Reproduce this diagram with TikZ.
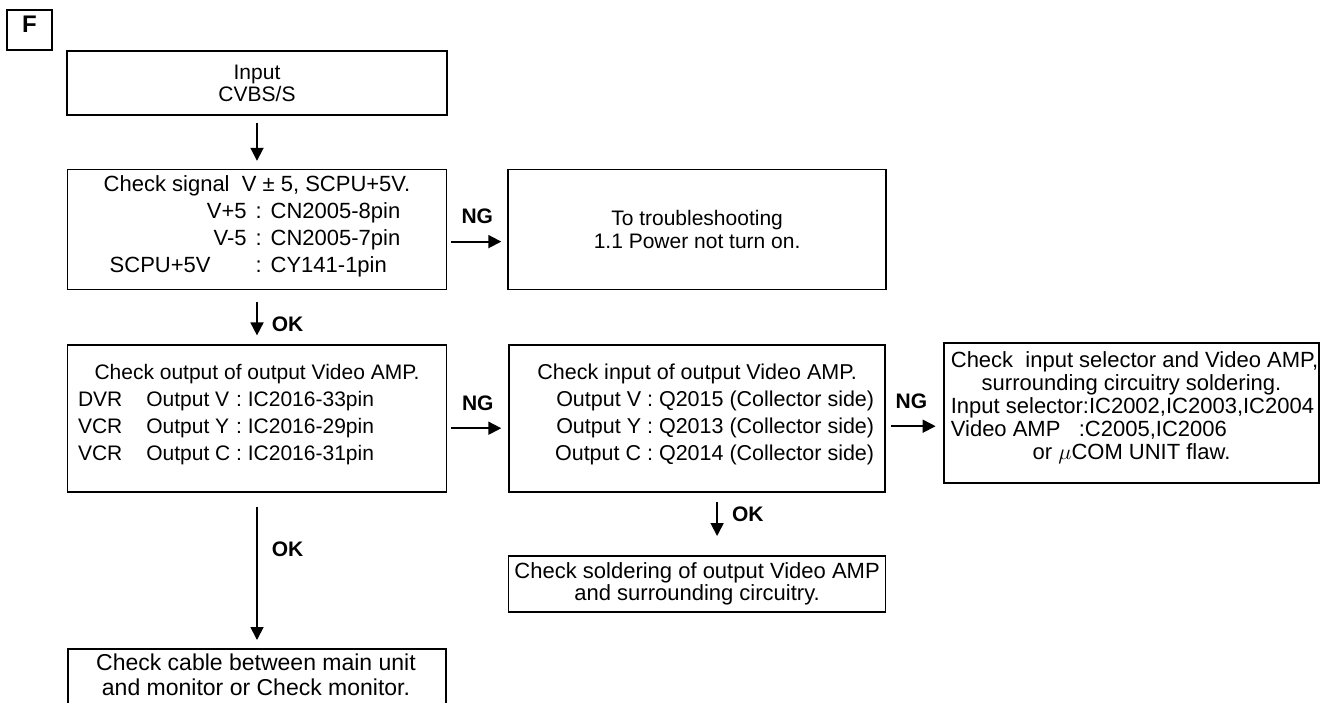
\documentclass[tikz,border=0pt]{standalone}
\usepackage{fontspec}
\setmainfont{Liberation Sans}
\usetikzlibrary{arrows.meta,positioning}
\tikzset{
  every node/.style={font=\fontsize{11}{11}\selectfont},
  box/.style={draw=black, line width=0.8pt, inner sep=0pt, align=center},
  heavybox/.style={box, line width=1.4pt},
  tbl/.style={font=\fontsize{11}{13.5}\selectfont},
  tag/.style={box, minimum width=22.5pt, minimum height=20pt,
              font=\fontsize{12}{12}\selectfont\bfseries},
  arr/.style={-{Triangle[length=6.5pt, width=6.5pt]}, line width=0.9pt},
  lbl/.style={font=\fontsize{10.5}{11}\selectfont\bfseries, inner sep=0pt},
}

\begin{document}
\begin{tikzpicture}[x=0.5pt, y=-0.5pt]
\useasboundingbox (0,0) rectangle (1326,702);
\clip (0,0) rectangle (1326,702);

\node[tag, text depth=6pt] (tagF) at (29.5,30) {F};
\node[box, font=\fontsize{10.5}{11}\selectfont, minimum width=190pt, minimum height=32pt]
  (input) at (257,83) {Input\\CVBS/S};

\node[box, tbl, minimum width=189.5pt, minimum height=60pt, below=26.5pt of input] (signal)
  {\begin{tabular}{@{\hspace{3pt}}r@{\hspace{4.5pt}:\hspace{4.5pt}}l@{}}
   \multicolumn{2}{@{}c@{}}{Check signal\ \ V ± 5, SCPU+5V.}\\
   V+5 & CN2005-8pin\\
   V-5 & CN2005-7pin\\
   SCPU+5V\hspace{18pt} & CY141-1pin\\[3pt]
   \end{tabular}};
\node[box, font=\fontsize{10.5}{11.5}\selectfont, minimum width=189pt, minimum height=60pt,
      right=30pt of signal] (power)
  {To troubleshooting\\1.1 Power not turn on.};

\node[box, font=\fontsize{10.5}{13.5}\selectfont, minimum width=189.5pt, minimum height=73.5pt,
      below=27pt of signal] (outamp)
  {\begin{tabular}{@{}l@{\hspace{12pt}}l@{\ :\ }l@{\hspace{31pt}}}
   \multicolumn{3}{@{}c@{}}{Check output of output Video AMP.}\\
   DVR & Output V & IC2016-33pin\\
   VCR & Output Y & IC2016-29pin\\
   VCR & Output C & IC2016-31pin\\[4pt]
   \end{tabular}};
\node[box, font=\fontsize{10.75}{13.5}\selectfont, minimum width=188pt, minimum height=73.5pt,
      right=30.5pt of outamp] (inamp)
  {\begin{tabular}{@{\hspace{17.5pt}}r@{\ :\ }l@{}}
   \multicolumn{2}{@{}c@{}}{Check input of output Video AMP.}\\
   Output V & Q2015 (Collector side)\\
   Output Y & Q2013 (Collector side)\\
   Output C & Q2014 (Collector side)\\[4pt]
   \end{tabular}};
\node[heavybox, font=\fontsize{11}{11.5}\selectfont, minimum width=187.5pt, minimum height=70pt]
  (selector) at (1131.5,413)
  {\begin{tabular}{@{\hspace{3pt}}l@{}}
   Check\ \ input selector and Video AMP,\\
   \multicolumn{1}{@{}c@{}}{surrounding circuitry soldering.}\\
   Input selector:IC2002,IC2003,IC2004\\
   Video AMP\ \ \ :C2005,IC2006\\
   \multicolumn{1}{@{}c@{}}{or\ $\mu$COM UNIT flaw.}\\[4pt]
   \end{tabular}};

\node[box, font=\fontsize{11}{10.5}\selectfont, minimum width=188.5pt, minimum height=28pt,
      below=31pt of inamp] (solder)
  {Check soldering of output Video AMP\\and surrounding circuitry.};
\node[box, minimum width=189pt, minimum height=50pt, below=77.5pt of outamp] (cable) {};
\node[font=\fontsize{11.5}{12.5}\selectfont, align=center] (cabletxt) at (256,674.5)
  {Check cable between main unit\\and monitor or Check monitor.};

\draw[arr, shorten <=3.5pt, shorten >=4pt] (input) -- (signal);
\draw[arr, shorten <=2pt, shorten >=3pt] ([yshift=-6pt]signal.east) -- node[lbl, above=8.5pt]{NG} ([yshift=-6pt]power.west);
\draw[arr, shorten <=6pt, shorten >=4.5pt] (signal) -- node[lbl, right=7pt, pos=0.63]{OK} (outamp);
\draw[arr, shorten <=2pt, shorten >=3.5pt] ([yshift=-4.75pt]outamp.east) -- node[lbl, above=8.5pt]{NG} ([yshift=-4.75pt]inamp.west);
\draw[arr, shorten <=2.5pt, shorten >=3.5pt] ([yshift=-3.75pt]inamp.east) -- node[lbl, above=8.5pt, pos=0.45]{NG} ([yshift=-3.75pt]inamp.east -| selector.west);
\draw[arr, shorten <=4.5pt, shorten >=9.5pt] ([xshift=10pt]inamp.south) -- node[lbl, right=7pt, pos=0.35]{OK} ([xshift=10pt]inamp.south |- solder.north);
\draw[arr, shorten <=7pt, shorten >=4pt] (outamp) -- node[lbl, right=7pt, pos=0.36]{OK} (cable);

\end{tikzpicture}
\end{document}
